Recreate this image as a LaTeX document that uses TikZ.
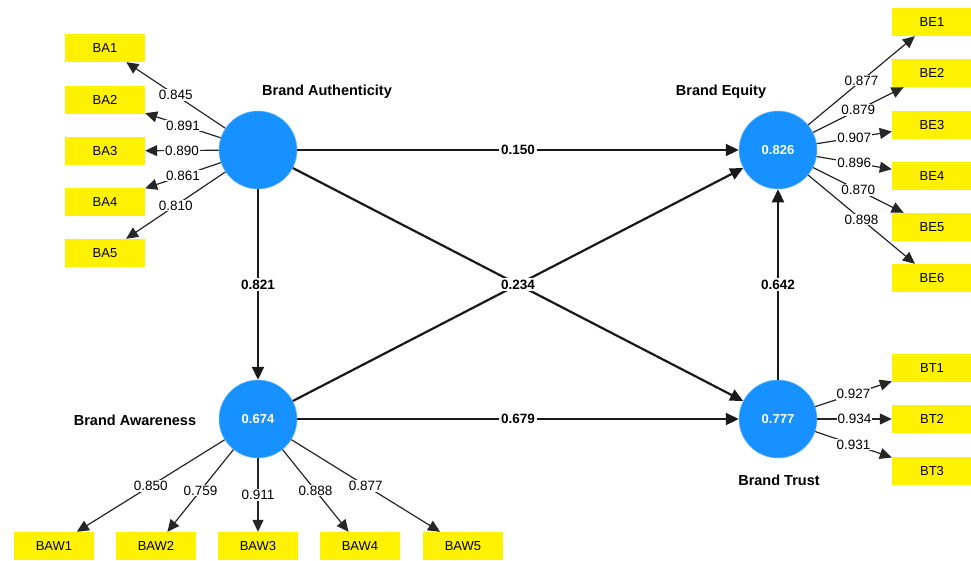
\documentclass[tikz,border=0pt]{standalone}
\usepackage{fontspec}
\setmainfont{Liberation Sans}
\usetikzlibrary{arrows.meta}
\definecolor{lvblue}{RGB}{22,145,255}
\begin{document}
\begin{tikzpicture}[x=1pt,y=-1pt,
  lv/.style={circle, fill=lvblue, draw=lvblue!60!white, line width=0.5pt, minimum size=78pt, inner sep=0pt, text=white, font=\bfseries\fontsize{13}{15}\selectfont},
  ind/.style={rectangle, fill=yellow, minimum width=80pt, minimum height=28pt, inner sep=0pt, font=\fontsize{13}{15}\selectfont},
  lvname/.style={font=\bfseries\fontsize{14.5}{17}\selectfont, inner sep=0pt},
  load/.style={-{Triangle[length=12pt,width=11pt]}, line width=1.2pt, draw=black!85},
  pathc/.style={-{Triangle[length=13pt,width=12pt]}, line width=2.2pt, draw=black!90},
  lbl/.style={fill=white, inner sep=1pt, font=\fontsize{13.5}{15}\selectfont},
  plbl/.style={fill=white, inner sep=2pt, font=\bfseries\fontsize{13.5}{15}\selectfont}]
\clip (0,0) rectangle (971,560);
\fill[white] (0,0) rectangle (971,560);

% latent variables
\node[lv] (BA) at (258,150) {};
\node[lv] (BE) at (778,150) {0.826};
\node[lv] (BAW) at (258,419) {0.674};
\node[lv] (BT) at (778,419) {0.777};

\node[lvname] (nBA) at (327,92) {Brand Authenticity};
\node[lvname] (nBE) at (721,92) {Brand Equity};
\node[lvname] (nBAW) at (135,420) {Brand Awareness};
\node[lvname] (nBT) at (779,480) {Brand Trust};

% indicators
\node[ind] (BA1) at (105,48) {BA1};
\node[ind] (BA2) at (105,100) {BA2};
\node[ind] (BA3) at (105,151) {BA3};
\node[ind] (BA4) at (105,202) {BA4};
\node[ind] (BA5) at (105,253) {BA5};

\node[ind] (BE1) at (932,22) {BE1};
\node[ind] (BE2) at (932,73) {BE2};
\node[ind] (BE3) at (932,125) {BE3};
\node[ind] (BE4) at (932,176) {BE4};
\node[ind] (BE5) at (932,227) {BE5};
\node[ind] (BE6) at (932,278) {BE6};

\node[ind] (BT1) at (932,368) {BT1};
\node[ind] (BT2) at (932,419) {BT2};
\node[ind] (BT3) at (932,471) {BT3};

\node[ind] (BAW1) at (54,546) {BAW1};
\node[ind] (BAW2) at (156,546) {BAW2};
\node[ind] (BAW3) at (258,546) {BAW3};
\node[ind] (BAW4) at (360,546) {BAW4};
\node[ind] (BAW5) at (463,546) {BAW5};

% loadings
\draw[load] (BA) -- node[lbl] {0.845} (BA1);
\draw[load] (BA) -- node[lbl] {0.891} (BA2);
\draw[load] (BA) -- node[lbl] {0.890} (BA3);
\draw[load] (BA) -- node[lbl] {0.861} (BA4);
\draw[load] (BA) -- node[lbl] {0.810} (BA5);

\draw[load] (BE) -- node[lbl] {0.877} (BE1);
\draw[load] (BE) -- node[lbl] {0.879} (BE2);
\draw[load] (BE) -- node[lbl] {0.907} (BE3);
\draw[load] (BE) -- node[lbl] {0.896} (BE4);
\draw[load] (BE) -- node[lbl] {0.870} (BE5);
\draw[load] (BE) -- node[lbl] {0.898} (BE6);

\draw[load] (BT) -- node[lbl] {0.927} (BT1);
\draw[load] (BT) -- node[lbl] {0.934} (BT2);
\draw[load] (BT) -- node[lbl] {0.931} (BT3);

\draw[load] (BAW) -- node[lbl] {0.850} (BAW1);
\draw[load] (BAW) -- node[lbl] {0.759} (BAW2);
\draw[load] (BAW) -- node[lbl] {0.911} (BAW3);
\draw[load] (BAW) -- node[lbl] {0.888} (BAW4);
\draw[load] (BAW) -- node[lbl] {0.877} (BAW5);

% structural paths
\draw[pathc] (BA) -- node[plbl] {0.150} (BE);
\draw[pathc] (BA) -- node[plbl] {0.821} (BAW);
\draw[pathc] (BAW) -- (BE);
\draw[pathc] (BA) -- node[plbl] {0.234} (BT);
\draw[pathc] (BAW) -- node[plbl] {0.679} (BT);
\draw[pathc] (BT) -- node[plbl] {0.642} (BE);
\end{tikzpicture}
\end{document}
